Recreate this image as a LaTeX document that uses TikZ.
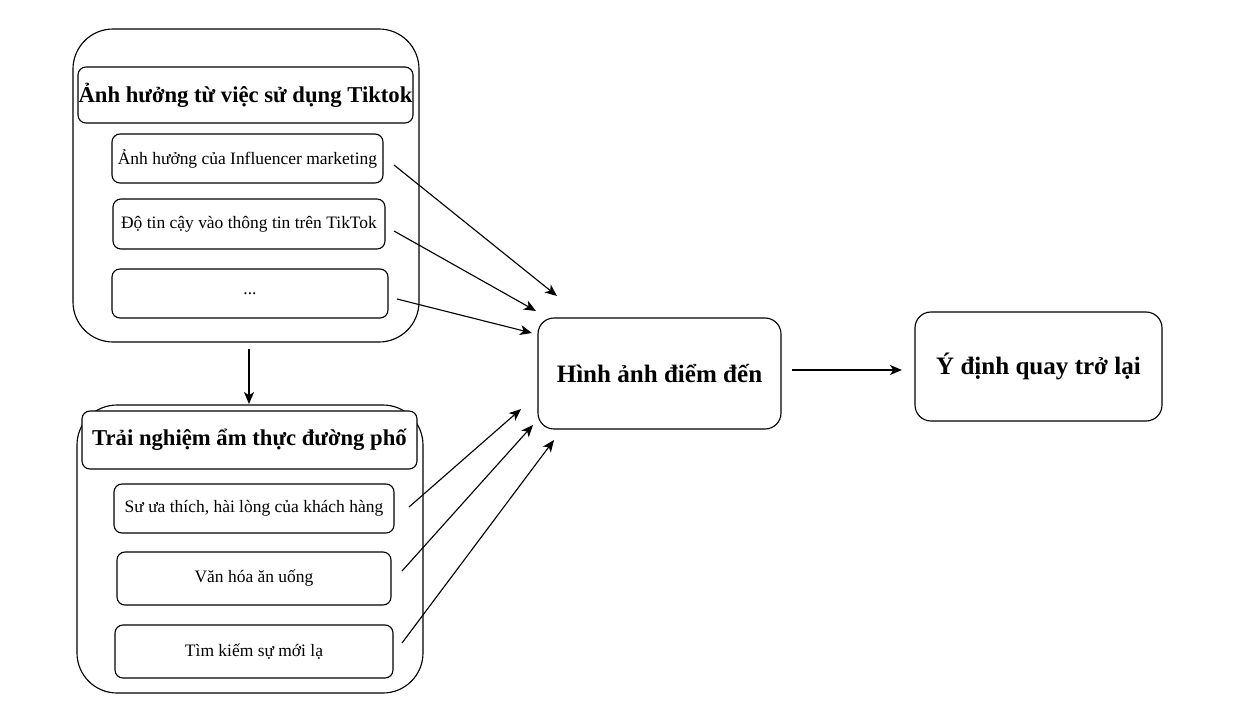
\documentclass[tikz,border=0pt]{standalone}
\usepackage{fontspec}
\setmainfont{Liberation Serif}
\usetikzlibrary{arrows.meta}
\begin{document}
\begin{tikzpicture}[x=0.75pt,y=-0.75pt,
  every node/.style={inner sep=0pt,outer sep=0pt},
  sz/.style 2 args={minimum width=#1*0.75pt,minimum height=#2*0.75pt},
  grp/.style={draw,line width=0.85pt,rounded corners=30pt},
  hdr/.style={draw,fill=white,line width=0.85pt,rounded corners=6pt,font=\bfseries\fontsize{17pt}{20pt}\selectfont},
  item/.style={draw,line width=0.85pt,rounded corners=6pt,font=\fontsize{13.1pt}{15pt}\selectfont},
  main/.style={draw,line width=0.85pt,rounded corners=12pt,font=\bfseries\fontsize{18.8pt}{22pt}\selectfont},
  arr/.style={line width=0.85pt,-{Stealth[length=9pt,width=7.5pt,inset=2.5pt]}}]
\useasboundingbox (0,0) rectangle (1240,715);
% top group
\node[grp,sz={346}{313}] (g1) at (246,185.5) {};
\node[hdr,sz={335}{56}] (h1) at (245.5,95) {Ảnh hưởng từ việc sử dụng Tiktok};
\node[item,sz={271}{49}] (a1) at (247.5,158.5) {Ảnh hưởng của Influencer marketing};
\node[item,sz={272}{50}] (a2) at (249,224) {Độ tin cậy vào thông tin trên TikTok};
\node[item,sz={276}{49}] (a3) at (250,293.5) {...};
% bottom group
\node[grp,sz={346}{288}] (g2) at (250,549) {};
\node[hdr,sz={335}{58}] (h2) at (249.5,440) {Trải nghiệm ẩm thực đường phố};
\node[item,sz={280}{49}] (b1) at (254,508.5) {Sư ưa thích, hài lòng của khách hàng};
\node[item,sz={274}{53}] (b2) at (254,578.5) {Văn hóa ăn uống};
\node[item,sz={278}{53}] (b3) at (254,651.5) {Tìm kiếm sự mới lạ};
% main boxes
\node[main,sz={243}{111}] (c) at (659.5,373.5) {Hình ảnh điểm đến};
\node[main,sz={247}{109}] (r) at (1038.5,366.5) {Ý định quay trở lại};
% connector ends
\coordinate (a1s) at (394,165); \coordinate (a1e) at (557,296);
\coordinate (a2s) at (394,231); \coordinate (a2e) at (536,311);
\coordinate (a3s) at (397,299); \coordinate (a3e) at (532,333);
\coordinate (b1s) at (409,507); \coordinate (b1e) at (521,409);
\coordinate (b2s) at (402,571); \coordinate (b2e) at (533,425);
\coordinate (b3s) at (402,643); \coordinate (b3e) at (554,440);
\coordinate (gs) at (249,349); \coordinate (ge) at (249,404);
\coordinate (cs) at (792,370); \coordinate (ce) at (902,370);
\draw[arr] (a1s) -- (a1e);
\draw[arr] (a2s) -- (a2e);
\draw[arr] (a3s) -- (a3e);
\draw[arr] (b1s) -- (b1e);
\draw[arr] (b2s) -- (b2e);
\draw[arr] (b3s) -- (b3e);
\draw[arr] (gs) -- (ge);
\draw[arr] (cs) -- (ce);
\end{tikzpicture}
\end{document}
